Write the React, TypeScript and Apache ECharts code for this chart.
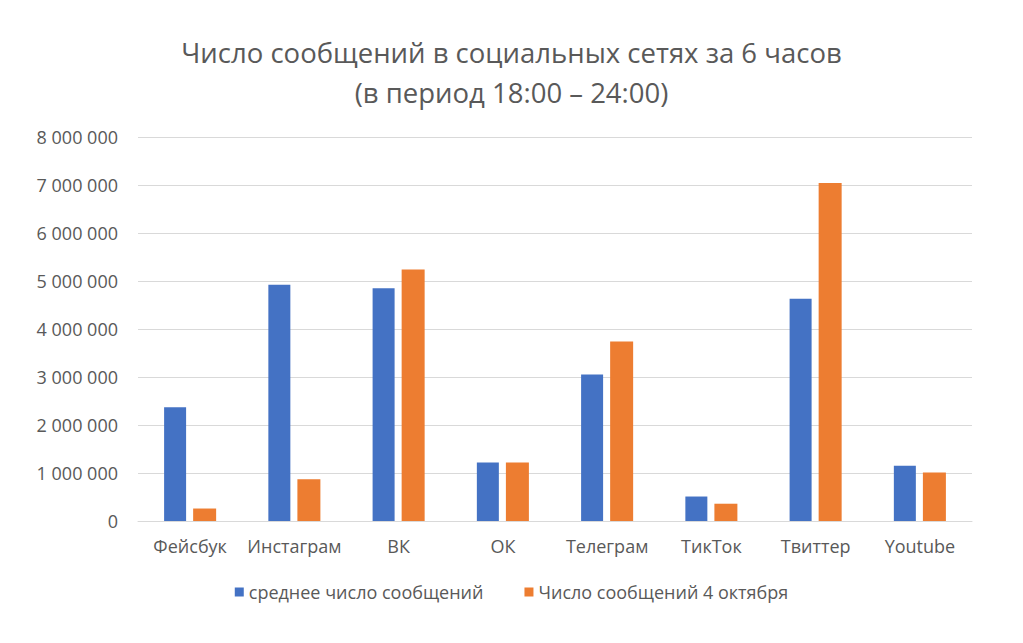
import React, { useEffect, useRef } from "react";
import * as echarts from "echarts";

const categories = ["Фейсбук", "Инстаграм", "ВК", "ОК", "Телеграм", "ТикТок", "Твиттер", "Youtube"];
const avgSeries = [2370000, 4920000, 4850000, 1220000, 3050000, 510000, 4630000, 1150000];
const oct4Series = [260000, 870000, 5240000, 1220000, 3740000, 360000, 7040000, 1010000];
const seriesNames = ["среднее число сообщений", "Число сообщений 4 октября"];
const titleLines = ["Число сообщений в социальных сетях за 6 часов", "(в период 18:00 – 24:00)"];

const FONT = "'Open Sans', sans-serif";

function fmt(v: number): string {
  return String(v).replace(/\B(?=(\d{3})+(?!\d))/g, " ");
}

export default function App() {
  const ref = useRef<HTMLDivElement>(null);
  useEffect(() => {
    if (!ref.current) return;
    const chart = echarts.init(ref.current, null, { renderer: "svg" });
    chart.setOption({
      animation: false,
      backgroundColor: "#ffffff",
      title: {
        text: titleLines.join("\n"),
        left: "center",
        top: 27,
        textStyle: {
          fontFamily: FONT,
          fontSize: 27.5,
          fontWeight: "normal",
          color: "#595959",
          lineHeight: 40,
        },
      },
      grid: { left: 138, right: 51, top: 137, bottom: 122 },
      legend: {
        bottom: 37,
        left: "center",
        itemWidth: 9,
        itemHeight: 9,
        itemGap: 41,
        icon: "rect",
        textStyle: { fontFamily: FONT, fontSize: 18, color: "#595959" },
        data: seriesNames,
      },
      xAxis: {
        type: "category",
        data: categories,
        axisLine: { lineStyle: { color: "#D9D9D9" } },
        axisTick: { show: false },
        axisLabel: { fontFamily: FONT, fontSize: 18, color: "#595959", margin: 16, interval: 0 },
      },
      yAxis: {
        type: "value",
        min: 0,
        max: 8000000,
        interval: 1000000,
        axisLine: { show: false },
        axisTick: { show: false },
        splitLine: { lineStyle: { color: "#D9D9D9", width: 1.2 } },
        axisLabel: {
          fontFamily: FONT,
          fontSize: 18,
          color: "#595959",
          margin: 20,
          formatter: (v: number) => fmt(v),
        },
      },
      series: [
        {
          name: seriesNames[0],
          type: "bar",
          data: avgSeries,
          barWidth: 22,
          barGap: "32%",
          itemStyle: { color: "#4472C4" },
        },
        {
          name: seriesNames[1],
          type: "bar",
          data: oct4Series,
          barWidth: 23,
          itemStyle: { color: "#ED7D31" },
        },
      ],
    });
    return () => chart.dispose();
  }, []);
  return (
    <div
      ref={ref}
      style={{ position: "fixed", left: 0, top: 0, width: 1023, height: 643 }}
    />
  );
}
